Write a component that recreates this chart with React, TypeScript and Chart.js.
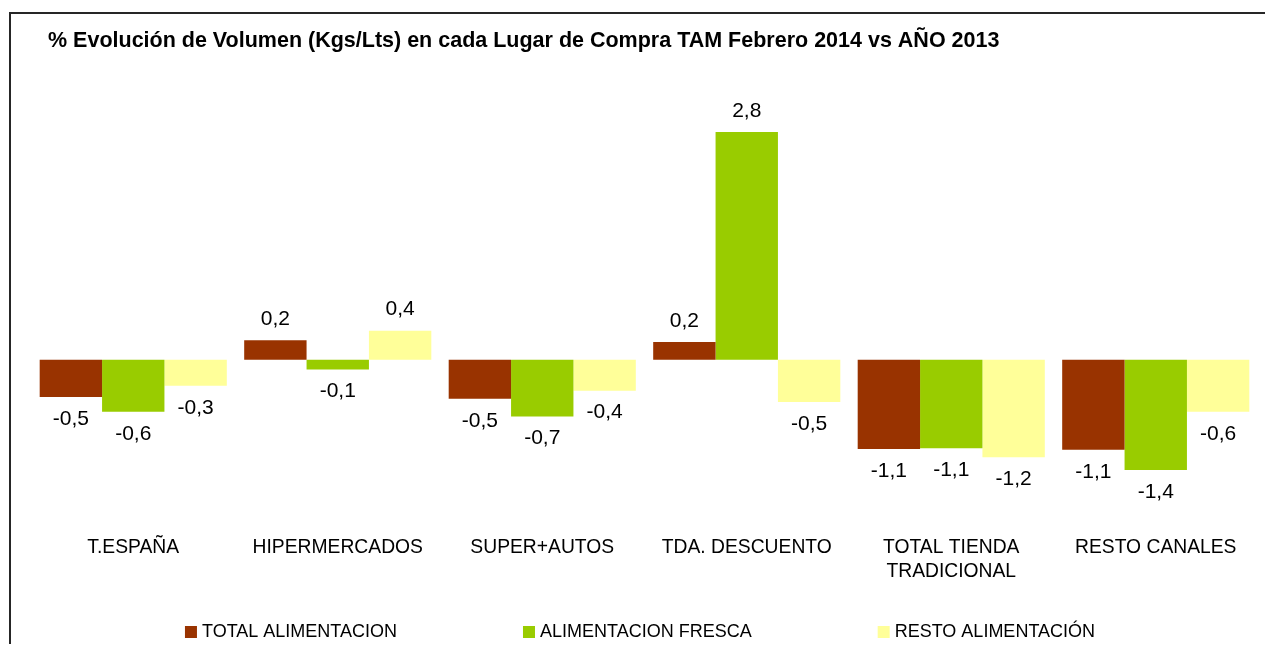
import React, { useEffect, useRef } from "react";
import { Chart, registerables } from "chart.js";

Chart.register(...registerables);

const TITLE = "% Evolución de Volumen (Kgs/Lts) en cada Lugar de Compra TAM Febrero 2014 vs AÑO 2013";

const categories: (string | string[])[] = [
  "T.ESPAÑA",
  "HIPERMERCADOS",
  "SUPER+AUTOS",
  "TDA. DESCUENTO",
  ["TOTAL TIENDA", "TRADICIONAL"],
  "RESTO CANALES",
];

const seriesNames = ["TOTAL ALIMENTACION", "ALIMENTACION FRESCA", "RESTO ALIMENTACIÓN"];
const seriesColors = ["#993300", "#99CC00", "#FFFF99"];

const totalAlimentacion = [-0.46, 0.24, -0.48, 0.22, -1.1, -1.11];
const alimentacionFresca = [-0.64, -0.12, -0.7, 2.81, -1.09, -1.36];
const restoAlimentacion = [-0.32, 0.36, -0.38, -0.52, -1.2, -0.64];

const yMin = -2;
const yMax = 3.5;

const FONT = "'Liberation Sans', Arial, sans-serif";

const fmt = (v: number) => v.toFixed(1).replace(".", ",");

const overlayPlugin = {
  id: "overlay",
  afterDatasetsDraw(chart: any) {
    const ctx = chart.ctx;
    ctx.save();
    // data labels
    ctx.fillStyle = "#000";
    ctx.font = `21px ${FONT}`;
    ctx.textAlign = "center";
    ctx.textBaseline = "middle";
    chart.data.datasets.forEach((ds: any, di: number) => {
      const meta = chart.getDatasetMeta(di);
      meta.data.forEach((el: any, i: number) => {
        const v = ds.data[i] as number;
        const y = v >= 0 ? el.y - 21 : el.y + 22;
        ctx.fillText(fmt(v), el.x, y);
      });
    });
    // title
    ctx.font = `bold 21.5px ${FONT}`;
    ctx.textAlign = "left";
    ctx.fillText(TITLE, 48, 41);
    // legend
    ctx.font = `18px ${FONT}`;
    const box = 12;
    const gapText = 5;
    const gap = 126;
    const widths = seriesNames.map((n) => ctx.measureText(n).width);
    const total = widths.reduce((a, w) => a + box + gapText + w, 0) + gap * (seriesNames.length - 1);
    let x = 640 - total / 2;
    const ly = 632;
    seriesNames.forEach((n, i) => {
      ctx.fillStyle = seriesColors[i];
      ctx.fillRect(x, ly - box / 2, box, box);
      ctx.fillStyle = "#000";
      ctx.fillText(n, x + box + gapText, ly);
      x += box + gapText + widths[i] + gap;
    });
    ctx.restore();
  },
};

export default function App() {
  const ref = useRef<HTMLCanvasElement | null>(null);
  useEffect(() => {
    if (!ref.current) return;
    const datasets = [totalAlimentacion, alimentacionFresca, restoAlimentacion].map((d, i) => ({
      label: seriesNames[i],
      data: d,
      backgroundColor: seriesColors[i],
      borderWidth: 0,
      barPercentage: 1,
      categoryPercentage: 0.915,
    }));
    const chart = new Chart(ref.current, {
      type: "bar",
      data: { labels: categories, datasets },
      options: {
        animation: false,
        responsive: false,
        devicePixelRatio: 1,
        layout: { padding: { left: 31, right: 9, top: 76, bottom: 34 } },
        plugins: { legend: { display: false }, tooltip: { enabled: false }, title: { display: false } },
        scales: {
          x: {
            grid: { display: false, drawTicks: false },
            border: { display: false },
            ticks: {
              color: "#000",
              padding: 14,
              maxRotation: 0,
              autoSkip: false,
              font: { family: FONT, size: 19.3, lineHeight: 24 / 19.3 },
            },
            afterFit: (s: any) => {
              s.height = 90;
            },
          },
          y: {
            display: false,
            min: yMin,
            max: yMax,
          },
        },
      },
      plugins: [overlayPlugin],
    });
    return () => chart.destroy();
  }, []);
  return (
    <div>
      <div
        style={{
          position: "absolute",
          left: 9,
          top: 12,
          width: 1256,
          height: 632,
          borderTop: "2px solid #262626",
          borderLeft: "2px solid #262626",
          boxSizing: "border-box",
        }}
      />
      <canvas
        ref={ref}
        width={1267}
        height={646}
        style={{ position: "absolute", left: 0, top: 0, width: 1267, height: 646 }}
      />
    </div>
  );
}
